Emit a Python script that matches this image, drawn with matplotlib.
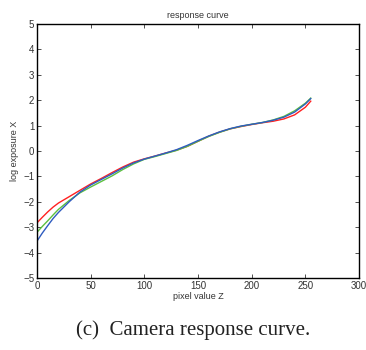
import matplotlib
matplotlib.use("Agg")
import matplotlib.pyplot as plt

# pixel values where the curves were read
pixel = [0, 5, 10, 15, 20, 30, 40, 50, 60, 70, 80, 90, 100, 110, 120, 130,
         140, 150, 160, 170, 180, 190, 200, 210, 220, 230, 240, 250, 255]

# log exposure per channel
red = [-2.83, -2.61, -2.40, -2.21, -2.05, -1.80, -1.55, -1.30, -1.08, -0.85,
       -0.63, -0.44, -0.31, -0.20, -0.08, 0.03, 0.18, 0.38, 0.58, 0.74, 0.87,
       0.96, 1.04, 1.11, 1.17, 1.26, 1.42, 1.72, 1.96]
green = [-3.20, -2.97, -2.75, -2.52, -2.30, -1.95, -1.65, -1.42, -1.20, -0.98,
         -0.73, -0.51, -0.33, -0.22, -0.10, 0.02, 0.18, 0.38, 0.57, 0.73,
         0.87, 0.97, 1.05, 1.12, 1.22, 1.36, 1.58, 1.88, 2.08]
blue = [-3.55, -3.23, -2.94, -2.66, -2.42, -2.00, -1.62, -1.34, -1.12, -0.90,
        -0.67, -0.47, -0.32, -0.20, -0.08, 0.05, 0.22, 0.41, 0.59, 0.75,
        0.88, 0.98, 1.05, 1.12, 1.21, 1.33, 1.53, 1.85, 2.06]

xticks = [0, 50, 100, 150, 200, 250, 300]
yticks = [-5, -4, -3, -2, -1, 0, 1, 2, 3, 4, 5]

plt.rcParams["font.family"] = ["Liberation Sans", "DejaVu Sans"]

fig = plt.figure(figsize=(3.66, 3.5), dpi=100)
ax = fig.add_axes([0.101, 0.2057, 0.880, 0.726])

ax.plot(pixel, red, color="#ff2020", lw=1.0)
ax.plot(pixel, green, color="#5cc040", lw=1.0)
ax.plot(pixel, blue, color="#2f5cc0", lw=1.0)

ax.set_xlim(0, 300)
ax.set_ylim(-5, 5)
ax.set_xticks(xticks)
ax.set_yticks(yticks)
ax.tick_params(direction="in", length=3, width=0.6, labelsize=7,
               top=True, right=True, pad=2, colors="#333333")
for s in ax.spines.values():
    s.set_linewidth(1.0)

ax.set_title("response curve", fontsize=6.5, pad=4, color="#333333")
ax.set_xlabel("pixel value Z", fontsize=6.5, labelpad=1, color="#333333")
ax.set_ylabel("log exposure X", fontsize=6.5, labelpad=3, color="#333333")

fig.text(0.528, 0.057, "(c)  Camera response curve.", ha="center",
         va="center", fontsize=15, family="Liberation Serif", color="#222222")

fig.savefig("out.png", dpi=100, facecolor="white")
